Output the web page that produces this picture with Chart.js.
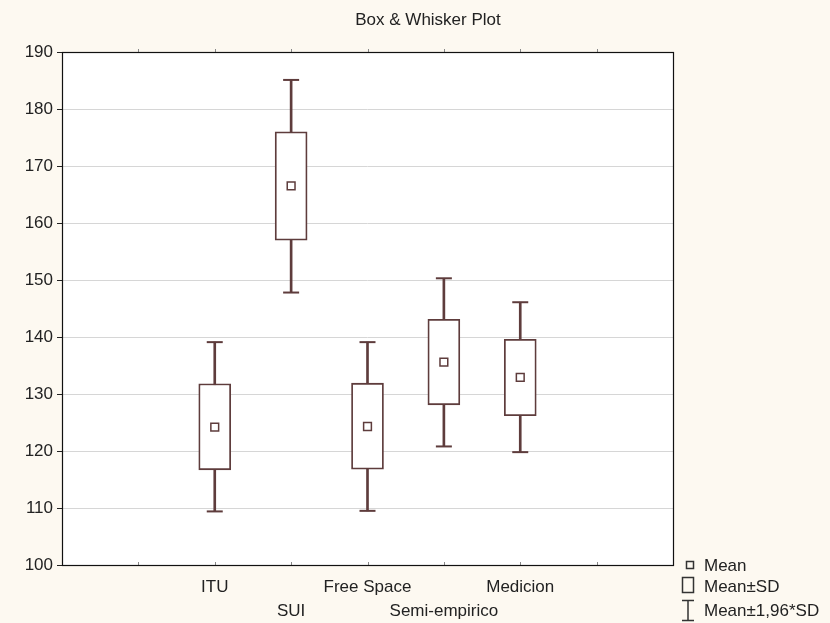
<!DOCTYPE html>
<html>
<head>
<meta charset="utf-8">
<script src="https://cdn.jsdelivr.net/npm/chart.js@4/dist/chart.umd.min.js"></script>
<style>
html,body{margin:0;padding:0;background:#fdf9f1;}
canvas{display:block;}
</style>
</head>
<body>
<canvas id="c" width="830" height="623"></canvas>
<script>
// ---- data ----
const categories = ['ITU', 'SUI', 'Free Space', 'Semi-empirico', 'Medicion'];
const positions  = [2, 3, 4, 5, 6];
const means      = [124.2, 166.5, 124.3, 135.6, 132.9];
const sdLow      = [116.7, 157.0, 116.8, 128.1, 126.2];
const sdHigh     = [131.8, 176.0, 131.9, 143.1, 139.6];
const ciLow      = [109.4, 147.8, 109.5, 120.8, 119.8];
const ciHigh     = [139.1, 185.1, 139.1, 150.3, 146.1];
const yMin = 100, yMax = 190, yStep = 10;
const xMin = 0, xMax = 8;
const titleText = 'Box & Whisker Plot';
const legendLabels = ['Mean', 'Mean±SD', 'Mean±1,96*SD'];

const MAROON = '#5e3c3c';
const FONT = '"Liberation Sans", Arial, sans-serif';

const bgPlugin = {
  id: 'bg',
  beforeDraw(chart) {
    const {ctx, chartArea: a} = chart;
    ctx.save();
    ctx.fillStyle = '#fdf9f1';
    ctx.fillRect(0, 0, chart.width, chart.height);
    ctx.fillStyle = '#ffffff';
    ctx.fillRect(a.left, a.top, a.right - a.left, a.bottom - a.top);
    ctx.restore();
  }
};

const framePlugin = {
  id: 'frame',
  afterDraw(chart) {
    const {ctx, chartArea: a, scales} = chart;
    ctx.save();
    // x tick marks
    ctx.strokeStyle = '#888';
    ctx.lineWidth = 1;
    for (let v = xMin + 1; v < xMax; v++) {
      const x = Math.round(scales.x.getPixelForValue(v)) + 0.5;
      ctx.beginPath();
      ctx.moveTo(x, a.bottom); ctx.lineTo(x, a.bottom - 3);
      ctx.moveTo(x, a.top); ctx.lineTo(x, a.top - 3);
      ctx.stroke();
    }
    // frame
    ctx.strokeStyle = '#111';
    ctx.lineWidth = 1.2;
    ctx.strokeRect(a.left + 0.5, a.top + 0.5, a.right - a.left, a.bottom - a.top);
    // title
    ctx.fillStyle = '#222';
    ctx.font = '17px ' + FONT;
    ctx.textAlign = 'center';
    ctx.textBaseline = 'middle';
    ctx.fillText(titleText, 428, 20);
    // legend
    const lx = a.right;
    ctx.textAlign = 'left';
    ctx.strokeStyle = '#333';
    ctx.lineWidth = 1.5;
    ctx.fillStyle = '#222';
    // mean icon
    ctx.strokeRect(lx + 13.5, 561.5, 7, 7);
    ctx.fillText(legendLabels[0], lx + 31, 566);
    // SD box icon
    ctx.strokeRect(lx + 9.5, 577.5, 11, 15);
    ctx.fillText(legendLabels[1], lx + 31, 587);
    // whisker icon
    ctx.beginPath();
    ctx.moveTo(lx + 15, 600); ctx.lineTo(lx + 15, 621);
    ctx.moveTo(lx + 9, 600.5); ctx.lineTo(lx + 21, 600.5);
    ctx.moveTo(lx + 9, 620.5); ctx.lineTo(lx + 21, 620.5);
    ctx.stroke();
    ctx.fillText(legendLabels[2], lx + 31, 611);
    ctx.restore();
  }
};

const pts = (vals) => positions.map((p, i) => ({x: p, y: vals[i]}));
const ranges = (lo, hi) => positions.map((p, i) => ({x: p, y: [lo[i], hi[i]]}));

new Chart(document.getElementById('c'), {
  type: 'bar',
  data: {
    datasets: [
      {
        type: 'bar', label: 'whisker', data: ranges(ciLow, ciHigh),
        backgroundColor: MAROON, borderWidth: 0, barThickness: 2, grouped: false, order: 4
      },
      {
        type: 'scatter', label: 'caps', data: pts(ciLow).concat(pts(ciHigh)),
        pointStyle: 'line', pointRadius: 8, pointHoverRadius: 8,
        borderColor: MAROON, pointBorderWidth: 2, borderWidth: 2, order: 3
      },
      {
        type: 'bar', label: 'Mean±SD', data: ranges(sdLow, sdHigh),
        backgroundColor: '#ffffff', borderColor: MAROON, borderWidth: 1.8,
        borderSkipped: false, barThickness: 32, grouped: false, order: 2
      },
      {
        type: 'scatter', label: 'Mean', data: pts(means),
        pointStyle: 'rect', pointRadius: 5.5, pointHoverRadius: 5.5,
        backgroundColor: '#ffffff', borderColor: MAROON, pointBorderWidth: 1.5, order: 1
      }
    ]
  },
  options: {
    responsive: false,
    animation: false,
    events: [],
    layout: {padding: {top: 52, right: 157, left: 0, bottom: 0}},
    plugins: {legend: {display: false}, tooltip: {enabled: false}, title: {display: false}},
    scales: {
      x: {
        type: 'linear', min: xMin, max: xMax, offset: false,
        grid: {display: false},
        border: {display: false},
        ticks: {
          stepSize: 1, autoSkip: false, maxRotation: 0, minRotation: 0,
          color: '#222', padding: 2,
          font: {family: FONT, size: 17, lineHeight: '24px'},
          callback: (v) => {
            const i = positions.indexOf(v);
            if (i < 0) return '';
            return i % 2 === 1 ? ['', categories[i]] : categories[i];
          }
        },
        afterFit: (s) => { s.height = 58; }
      },
      y: {
        type: 'linear', min: yMin, max: yMax,
        grid: {color: '#d6d6d6', tickColor: '#222', tickLength: 5, lineWidth: 1},
        border: {display: false},
        ticks: {stepSize: yStep, color: '#222', padding: 4, font: {family: FONT, size: 17}},
        afterFit: (s) => { s.width = 62; }
      }
    }
  },
  plugins: [bgPlugin, framePlugin]
});
</script>
</body>
</html>
